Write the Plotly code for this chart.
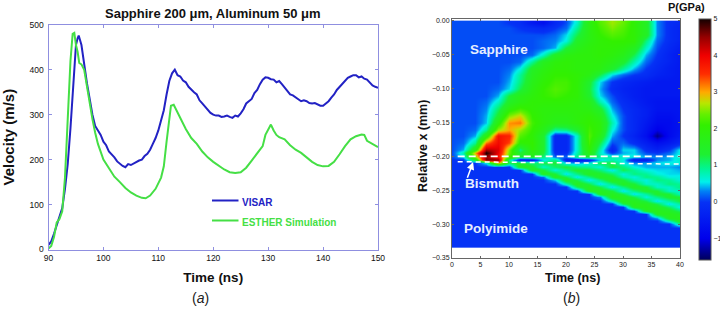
import plotly.graph_objects as go

visar_t = [90,90.5,91,91.5,92,92.5,93,93.5,94,94.5,95,95.3,95.5,96,96.5,97,97.5,98,98.5,99,99.5,100,100.5,101,101.5,102,102.5,103,103.5,104,104.5,105,105.5,106,106.5,107,107.5,108,108.5,109,109.5,110,110.5,111,111.5,112,112.5,113,113.5,114,114.5,115,115.5,116,116.5,117,117.5,118,118.5,119,119.5,120,120.5,121,121.5,122,122.5,123,123.5,124,124.5,125,125.5,126,126.5,127,127.5,128,128.5,129,129.5,130,130.5,131,131.5,132,132.5,133,133.5,134,134.5,135,135.5,136,136.5,137,137.5,138,138.5,139,139.5,140,140.5,141,141.5,142,142.5,143,143.5,144,144.5,145,145.5,146,146.5,147,147.5,148,148.5,149,149.5,150]
visar_v = [10,18,35,55,72,92,135,190,270,370,455,470,476,455,410,370,335,300,275,265,255,240,232,218,212,205,196,190,186,183,190,188,192,195,198,200,208,213,222,235,248,265,285,310,345,375,392,400,388,385,376,372,362,355,350,345,332,325,318,312,304,300,298,298,295,296,298,295,293,298,296,303,312,325,330,335,348,355,368,378,383,382,379,378,372,375,368,360,352,345,343,338,333,330,332,330,326,325,326,323,320,320,325,330,338,345,355,362,370,375,382,385,388,388,383,385,380,378,372,365,362,360]

esther_t = [90,90.5,91,91.5,92,92.5,93,93.5,94,94.4,94.7,95,95.3,95.6,96,96.5,97,97.5,98,98.5,99,100,101,102,103,104,105,106,107,107.7,108.5,109.5,110.5,111,111.5,112,112.3,112.8,113.5,114,115,116,117,118,119,120,121,122,123,124,125,126,127,128,129,129.5,130,130.5,131,131.5,132,133,134,135,136,137,138,139,140,141,142,143,144,145,146,147,147.5,148,149,150]
esther_v = [2,8,28,60,68,85,160,290,420,480,482,455,440,415,412,400,360,330,290,260,235,200,180,162,150,137,127,120,115,114,120,135,160,185,240,300,320,322,305,295,268,248,235,218,205,195,187,178,172,170,172,182,198,215,230,255,265,278,265,255,250,245,232,222,215,205,195,188,185,186,195,212,230,245,252,256,255,242,235,228]

time_ticks = [90,100,110,120,130,140,150]
vel_ticks = [0,100,200,300,400,500]

sim_time = [0,2,4,6,8,10,12,14,16,18,20,22,24,26,28,30,32,34,36,38,40]
rel_x = [-.0033,-.01,-.02,-.03,-.04,-.05,-.06,-.07,-.08,-.09,-.10,-.11,-.12,-.13,-.14,-.15,-.16,-.17,-.18,-.19,
         -.195,-.20,-.205,-.21,-.215,-.22,-.225,-.23,-.235,-.24,-.245,-.25,-.255,-.26,-.265,-.27,-.275,-.28,-.285,-.29,-.295,-.30,-.305,-.31,-.32,-.33]
pressure = [
 [.1,.1,.1,.1,.1,0,-.1,-.5,-.7,-.2,.1,.7,1.8,2.3,2.6,2.4,2,1.5,.3,-.1,-.2],
 [.1,.1,.1,.1,.1,.1,0,-.1,-.2,0,.2,.9,1.8,2.2,2.5,2.3,2,1.5,.3,-.1,-.3],
 [.1,.1,.1,.1,.1,.1,.1,.1,.1,.2,.5,1.2,1.8,2.1,2.3,2.2,2,1.5,.3,-.1,-.3],
 [.1,.1,.1,.1,.1,.1,.1,.1,.2,.3,.6,1.5,1.8,2,2.1,2.1,2,1,.2,-.1,-.3],
 [.1,.1,.1,.1,.1,.1,.1,.1,.2,.4,1.3,1.7,1.9,2,2,1.9,1.6,.7,.1,-.2,-.4],
 [.1,.1,.1,.1,.1,.1,.1,.2,.7,1.5,1.8,1.9,1.9,2,1.9,1.7,1.2,.4,0,-.3,-.5],
 [.1,.1,.1,.1,.1,.1,.2,.9,1.6,1.9,2,1.9,1.9,1.9,1.7,1.4,.8,.2,-.1,-.3,-.5],
 [.1,.1,.1,.1,.1,.2,.6,1.5,1.8,2,2,1.9,1.9,1.8,1.4,.9,.4,0,-.2,-.4,-.5],
 [.1,.1,.1,.1,.1,.3,.9,1.6,1.9,2.1,2.1,2,1.8,1.2,.5,.2,0,-.1,-.3,-.4,-.5],
 [.1,.1,.1,.1,.1,.4,1,1.7,2,2.2,2.2,2,1.4,.5,0,-.2,-.3,-.4,-.5,-.5,-.5],
 [.1,.1,.1,.1,.2,.5,1.2,1.8,2.1,2.3,2.2,2,1.3,.4,-.1,-.3,-.4,-.5,-.5,-.5,-.5],
 [.1,.1,.1,.1,.4,1.3,1.7,1.9,2.1,2.2,2.1,2,1.4,.5,.1,-.2,-.4,-.5,-.5,-.5,-.5],
 [.1,.1,.1,.2,.7,1.5,1.8,2,2,2,2,1.9,1.7,.8,.2,-.1,-.3,-.5,-.6,-.6,-.6],
 [.1,.1,.1,.3,1.1,1.9,2.2,2,1.9,1.9,1.9,1.9,1.8,1.4,.4,0,-.2,-.4,-.6,-.6,-.6],
 [.1,.1,.1,.4,1.4,2.5,2.8,2.1,1.9,1.8,1.8,1.9,2,1.7,.6,.1,-.2,-.4,-.7,-.7,-.6],
 [.1,.1,.1,.45,1.9,3.1,3.2,2.2,1.9,1.7,1.7,1.9,2.1,1.9,.8,.1,-.2,-.5,-.8,-.8,-.6],
 [.1,.1,.2,.9,2.6,3,2.6,2.1,1.7,.9,1,1.4,2.2,1.9,.6,.1,-.2,-.6,-1,-.8,-.6],
 [.1,.1,.4,1.8,3.8,3.6,2.3,2,1.4,-.2,-.2,.7,2.3,1.7,.4,0,-.3,-.7,-1.4,-.8,-.5],
 [.1,.2,.9,3.2,3.9,3.4,2,2.1,1.4,-.2,-.2,.7,2.2,1.2,.1,.2,-.1,-.4,-.7,-.5,-.2],
 [.1,.4,1.8,4.4,4.1,2.5,1,2,1.4,-.2,-.2,.7,2,.8,-.3,.5,.5,-.1,-.3,0,.6],
 [.1,.8,3,5,4,2.4,1.3,1.8,1.3,-.1,-.1,.8,1.8,.7,0,.4,.5,.1,0,.2,.6],
 [.1,.5,2.5,4.5,3.8,2.2,1.3,1.6,1,.2,.2,1,1.4,.9,.8,.7,.6,.4,.3,.4,.7],
 [0,0,1.5,4.6,4.5,.9,-.5,-.5,.5,1,-.3,-.5,-.3,.5,.8,.6,-.4,-.4,.3,.4,.7],
 [0,0,0,.6,3,1.2,1.4,1,1.2,1.3,.5,.3,.6,1.2,1.2,.6,.3,.4,.5,.6,.6],
 [0,0,0,0,0,0,1.6,1.4,.7,1.1,1.3,1,.9,.6,1.3,1,.6,.4,.4,.4,.3],
 [0,0,0,0,0,0,0,1.6,1.3,.6,1,1.4,1.3,1,.5,1.2,.9,.6,.5,.5,.4],
 [0,0,0,0,0,0,0,0,1.6,1.3,.5,1,1.5,1.4,1.1,.6,1,.9,.6,.5,.5],
 [0,0,0,0,0,0,0,0,.2,1.6,1.2,.5,1,1.5,1.4,.8,.6,1,.9,.6,.6],
 [0,0,0,0,0,0,0,0,0,.5,1.6,1.2,.5,1,1.6,1.3,.8,.6,1,.9,.6],
 [0,0,0,0,0,0,0,0,0,0,.8,1.6,1.2,.5,1,1.5,1.3,.7,.7,1,.9],
 [0,0,0,0,0,0,0,0,0,0,0,1.2,1.6,1.2,.5,1,1.5,1.3,.7,.7,1],
 [0,0,0,0,0,0,0,0,0,0,0,0,1.6,1.6,1.3,.5,1,1.4,1.3,.7,.7],
 [0,0,0,0,0,0,0,0,0,0,0,0,0,1.6,1.6,1.2,.5,.9,1.4,1.3,.7],
 [0,0,0,0,0,0,0,0,0,0,0,0,0,.3,1.7,1.6,1.2,.6,1,1.4,1.3],
 [0,0,0,0,0,0,0,0,0,0,0,0,0,0,.8,1.7,1.6,1.2,.5,.9,1.3],
 [0,0,0,0,0,0,0,0,0,0,0,0,0,0,0,1.2,1.7,1.6,1.2,.5,.9],
 [0,0,0,0,0,0,0,0,0,0,0,0,0,0,0,0,1.6,1.7,1.5,1.1,.5],
 [0,0,0,0,0,0,0,0,0,0,0,0,0,0,0,0,0,1.6,1.7,1.5,1.1],
 [0,0,0,0,0,0,0,0,0,0,0,0,0,0,0,0,0,0,1.6,1.7,1.5],
 [0,0,0,0,0,0,0,0,0,0,0,0,0,0,0,0,0,0,.4,1.6,1.7],
 [0,0,0,0,0,0,0,0,0,0,0,0,0,0,0,0,0,0,0,.8,1.6],
 [0,0,0,0,0,0,0,0,0,0,0,0,0,0,0,0,0,0,0,0,1],
 [0,0,0,0,0,0,0,0,0,0,0,0,0,0,0,0,0,0,0,0,0],
 [0,0,0,0,0,0,0,0,0,0,0,0,0,0,0,0,0,0,0,0,0],
 [0,0,0,0,0,0,0,0,0,0,0,0,0,0,0,0,0,0,0,0,0],
 [0,0,0,0,0,0,0,0,0,0,0,0,0,0,0,0,0,0,0,0,0],
]
assert len(pressure) == len(rel_x) and all(len(r) == len(sim_time) for r in pressure)

upper_dash_t = [1, 40]
upper_dash_x = [-0.2, -0.2]
lower_dash_t = [1, 40]
lower_dash_x = [-0.208, -0.2115]

pmin, pmax = -1.58, 5.0
stops = [(-1.58,(0,0,90)),(-1.0,(0,0,235)),(0,(5,50,245)),(0.3,(0,130,245)),(0.55,(0,240,235)),
         (0.9,(0,245,150)),(1.3,(30,240,50)),(2.1,(50,240,0)),(2.4,(100,240,0)),(2.7,(185,230,0)),(3.0,(255,170,0)),
         (3.5,(255,45,0)),(4.0,(240,0,0)),(4.5,(150,0,0)),(5.0,(20,0,0))]
cscale = [[(v-pmin)/(pmax-pmin), f"rgb{c}"] for v,c in stops]

W, H = 720, 309
def px(x): return x/W
def py(y): return 1-y/H

BOLD = "Liberation Sans"
frame = "#8f8fe0"
fig = go.Figure()
fig.add_trace(go.Scatter(x=visar_t, y=visar_v, mode="lines", line=dict(color="#2222c4", width=2), xaxis="x", yaxis="y", showlegend=False))
fig.add_trace(go.Scatter(x=esther_t, y=esther_v, mode="lines", line=dict(color="#45df45", width=2), xaxis="x", yaxis="y", showlegend=False))
fig.add_trace(go.Heatmap(x=sim_time, y=rel_x, z=pressure, zmin=pmin, zmax=pmax, zsmooth="best", colorscale=cscale,
    xaxis="x2", yaxis="y2",
    colorbar=dict(x=px(698.5), xanchor="left", y=py(18.5), yanchor="top", lenmode="pixels", len=240.5, ypad=0, xpad=0,
                  thickness=12, thicknessmode="pixels", outlinecolor="#555", outlinewidth=1,
                  tickvals=[-1,0,1,2,3,4,5], ticks="", tickprefix="<b>", ticksuffix="</b>",
                  tickfont=dict(family=BOLD, size=7, color="#222"))))
fig.add_trace(go.Scatter(x=upper_dash_t, y=upper_dash_x, mode="lines", line=dict(color="white", width=1.8, dash="7px,4px"), xaxis="x2", yaxis="y2", showlegend=False))
fig.add_trace(go.Scatter(x=lower_dash_t, y=lower_dash_x, mode="lines", line=dict(color="white", width=1.5, dash="5px,4px"), xaxis="x2", yaxis="y2", showlegend=False))

def tx(xp, yp, text, size=12, color="#111", bold=True, family=BOLD, anchor="center", angle=0):
    return dict(x=px(xp), y=py(yp), xref="paper", yref="paper", text=f"<b>{text}</b>" if bold else text,
                showarrow=False, xanchor=anchor, yanchor="middle", textangle=angle,
                font=dict(family=family, size=size, color=color))

anns = [
    tx(213, 13.5, "Sapphire 200 μm, Aluminum 50 μm", 13),
    tx(240, 202, "VISAR", 10, "#2222c4", anchor="left"),
    tx(240, 222, "ESTHER Simulation", 10, "#45df45", anchor="left"),
    tx(200.5, 298, "(<i>a</i>)", 14, "#222", bold=False),
    tx(571, 298, "(<i>b</i>)", 14, "#222", bold=False),
    tx(686.5, 7, "P(GPa)", 11, "#111"),
    tx(498.7, 49.5, "Sapphire", 13.5, "#e6eeff"),
    tx(491.5, 183, "Bismuth", 13.5, "#e6eeff"),
    tx(495.5, 228, "Polyimide", 13.5, "#e6eeff"),
    tx(423, 146, "Relative x (mm)", 12.5, "#111", angle=-90),
    tx(572.5, 278, "Time (ns)", 12.5, "#111"),
    dict(x=3.7, y=-0.2085, xref="x2", yref="y2", axref="x2", ayref="y2", ax=2.6, ay=-0.234, text="",
         showarrow=True, arrowhead=2, arrowsize=1, arrowwidth=1.5, arrowcolor="white"),
]

legend_keys = [
    dict(type="line", xref="paper", yref="paper", x0=px(212), x1=px(238.5), y0=py(200.5), y1=py(200.5), line=dict(color="#2222c4", width=2)),
    dict(type="line", xref="paper", yref="paper", x0=px(212), x1=px(238.5), y0=py(220.5), y1=py(220.5), line=dict(color="#45df45", width=2)),
]

fig.update_layout(
    width=W, height=H, margin=dict(l=0, r=0, t=0, b=0, autoexpand=False), autosize=False,
    paper_bgcolor="white", plot_bgcolor="white", showlegend=False,
    annotations=anns, shapes=legend_keys,
    xaxis=dict(domain=[px(48.5), px(378)], range=[90,150], tickvals=time_ticks, showgrid=False, zeroline=False,
               showline=True, linecolor=frame, linewidth=1, mirror="ticks", ticks="inside", ticklen=3, tickcolor=frame,
               tickfont=dict(family=BOLD, size=8.5, color="#111"), tickprefix="<b>", ticksuffix="</b>",
               title=dict(text="<b>Time (ns)</b>", font=dict(family=BOLD, size=13.5, color="#111"), standoff=10)),
    yaxis=dict(domain=[py(249.5), py(24.8)], range=[0,500], tickvals=vel_ticks, showgrid=False, zeroline=False,
               showline=True, linecolor=frame, linewidth=1, mirror="ticks", ticks="inside", ticklen=3, tickcolor=frame,
               tickfont=dict(family=BOLD, size=8.5, color="#111"), tickprefix="<b>", ticksuffix="</b>", ticklabelstandoff=2,
               title=dict(text="<b>Velocity (m/s)</b>", font=dict(family=BOLD, size=15, color="#111"), standoff=15)),
    xaxis2=dict(domain=[px(452), px(680)], range=[0,40], tickvals=list(range(0,41,5)), showgrid=False, zeroline=False,
                anchor="y2", showline=True, linecolor="#666", linewidth=1, mirror="ticks", ticks="inside", ticklen=2, tickcolor="#666",
                tickfont=dict(family=BOLD, size=7, color="#222"), tickprefix="<b>", ticksuffix="</b>"),
    yaxis2=dict(domain=[py(258), py(19)], range=[-0.35,0.0025], tickvals=[0,-.05,-.1,-.15,-.2,-.25,-.3,-.35], tickformat=".2f",
                anchor="x2", showgrid=False, zeroline=False, showline=True, linecolor="#666", linewidth=1, mirror="ticks",
                ticks="inside", ticklen=2, tickcolor="#666", tickprefix="<b>", ticksuffix="</b>",
                tickfont=dict(family=BOLD, size=7, color="#222")),
)
fig.write_html("out.html", config=dict(displayModeBar=False),
               post_script="document.body.style.margin='0';document.body.style.overflow='hidden';")
